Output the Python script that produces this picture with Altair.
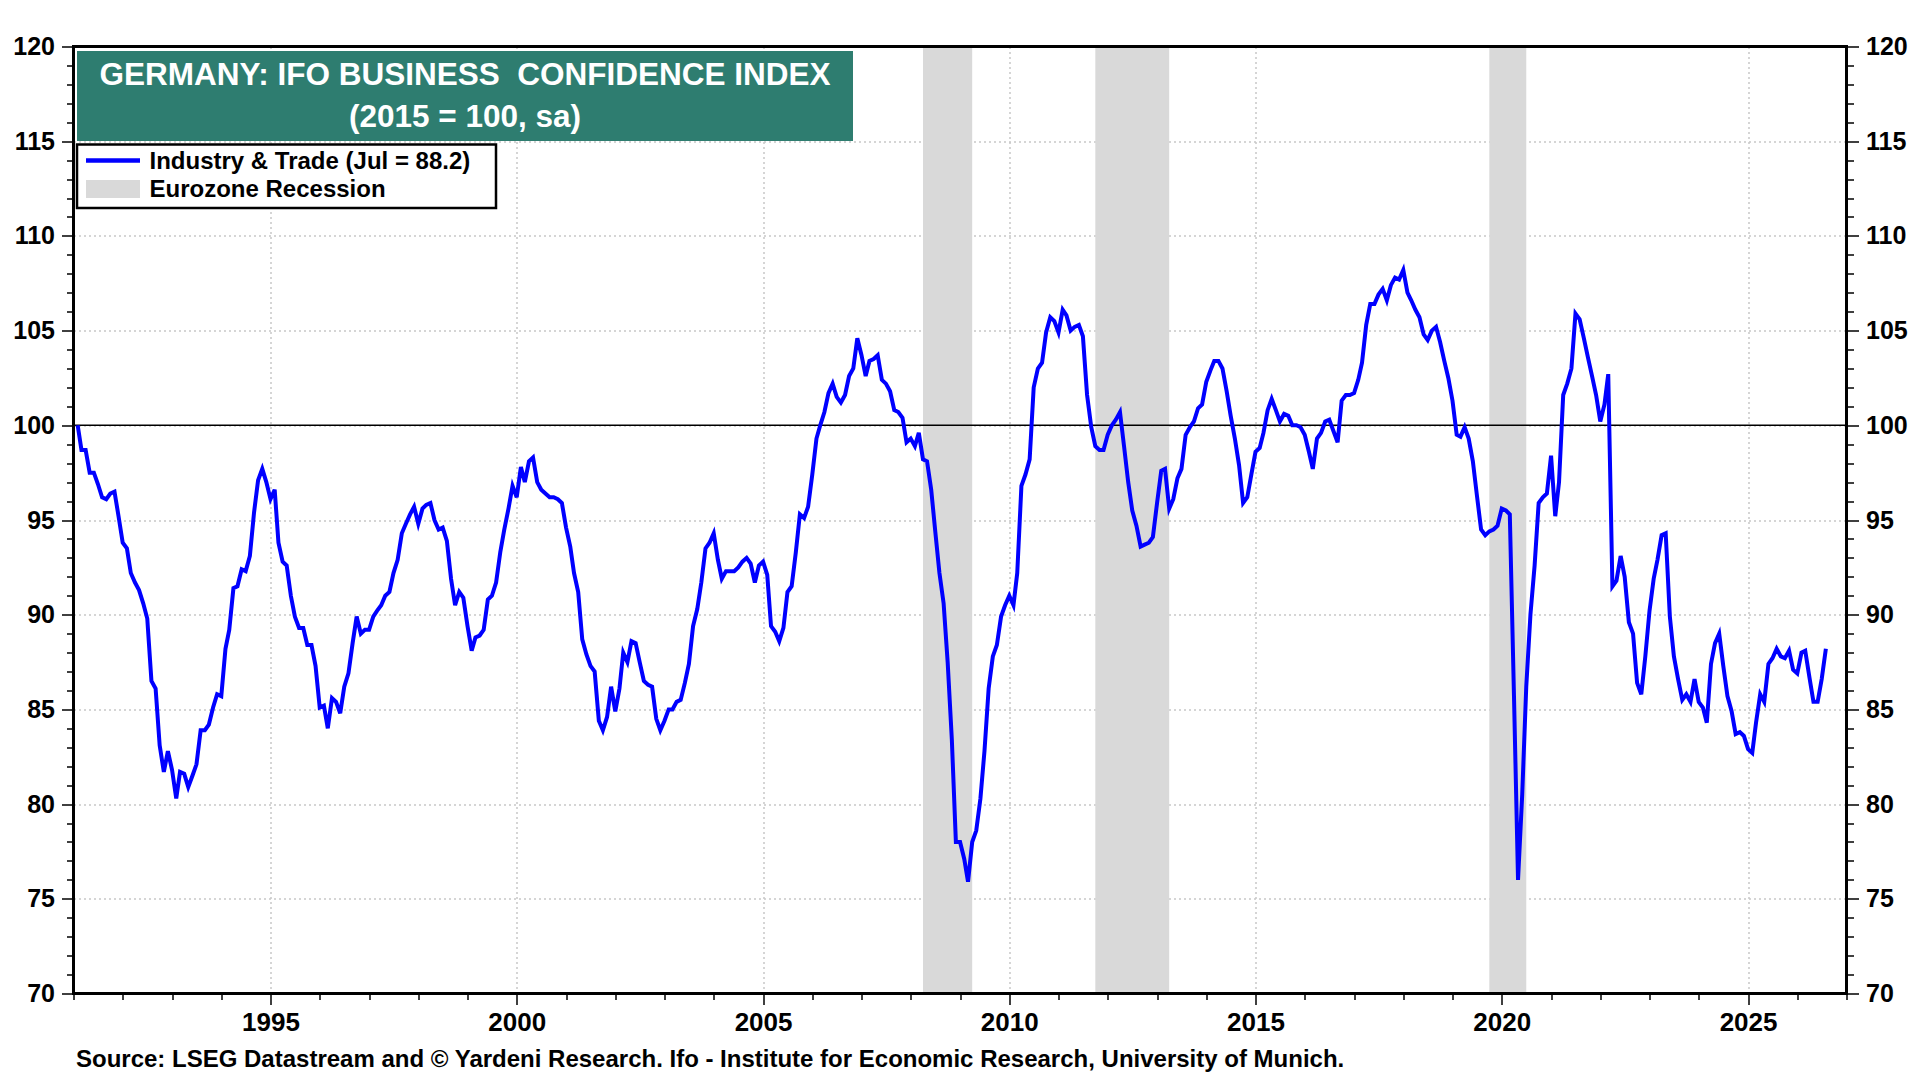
import altair as alt
import pandas as pd

# Monthly Ifo business climate, Industry & Trade (2015 = 100, sa), Jan 1991 .. Jul 2026
IFO_1991_1996 = [
    100.0, 98.7, 98.7, 97.5, 97.5, 96.9, 96.2, 96.1, 96.4, 96.5,
    95.2, 93.8, 93.5, 92.2, 91.7, 91.3, 90.6, 89.8, 86.5, 86.1,
    83.1, 81.7, 82.8, 81.8, 80.3, 81.7, 81.6, 80.9, 81.5, 82.1,
    83.9, 83.9, 84.2, 85.1, 85.8, 85.7, 88.2, 89.2, 91.4, 91.5,
    92.4, 92.3, 93.1, 95.4, 97.1, 97.7, 97.0, 96.1, 96.6, 93.8,
    92.8, 92.6, 91.0, 89.9, 89.3, 89.3, 88.4, 88.4, 87.3, 85.1,
    85.2, 84.0, 85.6, 85.4, 84.8, 86.2, 86.9, 88.5, 89.9, 89.0,
    89.2, 89.2, 89.9, 90.2,
]
IFO_1997_2002 = [
    90.5, 91.0, 91.2, 92.2, 92.9, 94.3, 94.8, 95.3, 95.7, 94.8,
    95.6, 95.8, 95.9, 95.0, 94.5, 94.6, 93.9, 91.9, 90.5, 91.2,
    90.9, 89.4, 88.1, 88.8, 88.9, 89.2, 90.8, 91.0, 91.7, 93.3,
    94.5, 95.6, 96.8, 96.2, 97.8, 97.0, 98.1, 98.3, 97.0, 96.6,
    96.4, 96.2, 96.2, 96.1, 95.9, 94.6, 93.6, 92.2, 91.2, 88.7,
    87.9, 87.3, 87.0, 84.4, 83.9, 84.6, 86.2, 84.9, 86.1, 88.0,
    87.5, 88.6, 88.5, 87.5, 86.5, 86.3, 86.2, 84.5, 83.9, 84.4,
    85.0, 85.0,
]
IFO_2003_2008 = [
    85.4, 85.5, 86.4, 87.4, 89.4, 90.3, 91.7, 93.5, 93.8, 94.3,
    92.9, 91.9, 92.3, 92.3, 92.3, 92.5, 92.8, 93.0, 92.7, 91.7,
    92.6, 92.8, 92.1, 89.4, 89.1, 88.6, 89.3, 91.2, 91.5, 93.3,
    95.3, 95.1, 95.7, 97.4, 99.3, 100.0, 100.7, 101.7, 102.2, 101.5,
    101.2, 101.6, 102.6, 103.0, 104.6, 103.7, 102.6, 103.4, 103.5, 103.7,
    102.4, 102.2, 101.8, 100.8, 100.7, 100.4, 99.1, 99.3, 98.9, 99.6,
    98.2, 98.1, 96.6, 94.4, 92.2, 90.6, 87.5, 83.4,
]
IFO_2008_2014 = [
    78.0, 78.0, 77.1, 75.9, 78.0, 78.6, 80.3, 82.8, 86.1, 87.8,
    88.4, 89.9, 90.5, 91.0, 90.5, 92.2, 96.8, 97.4, 98.2, 102.0,
    103.0, 103.3, 104.9, 105.7, 105.5, 104.9, 106.1, 105.8, 105.0, 105.2,
    105.3, 104.7, 101.6, 99.9, 98.9, 98.7, 98.7, 99.5, 100.0, 100.3,
    100.7, 98.9, 97.0, 95.5, 94.7, 93.6, 93.7, 93.8, 94.1, 95.9,
    97.6, 97.7, 95.6, 96.1, 97.2, 97.7, 99.5, 99.9, 100.2, 100.9,
    101.1, 102.3, 102.9, 103.4, 103.4, 103.0, 101.8, 100.5, 99.3,
]
IFO_2014_2020 = [
    97.9, 95.9, 96.2, 97.4, 98.6, 98.8, 99.6, 100.8, 101.4, 100.8,
    100.2, 100.6, 100.5, 100.0, 100.0, 99.9, 99.5, 98.6, 97.7, 99.3,
    99.6, 100.2, 100.3, 99.7, 99.1, 101.3, 101.6, 101.6, 101.7, 102.4,
    103.3, 105.3, 106.4, 106.4, 106.9, 107.2, 106.6, 107.4, 107.8, 107.7,
    108.2, 107.0, 106.6, 106.1, 105.7, 104.8, 104.5, 105.0, 105.2, 104.4,
    103.4, 102.5, 101.3, 99.5, 99.4, 99.9, 99.3, 98.1, 96.3, 94.5,
    94.2, 94.4, 94.5, 94.7, 95.6, 95.5, 95.3, 85.7, 76.0, 80.5,
    86.2,
]
IFO_2020_2026 = [
    90.0, 92.6, 95.9, 96.2, 96.4, 98.4, 95.2, 97.0, 101.6, 102.2,
    103.0, 105.9, 105.6, 104.6, 103.6, 102.6, 101.6, 100.2, 101.1, 102.7,
    91.5, 91.8, 93.1, 92.0, 89.6, 89.0, 86.4, 85.8, 87.8, 90.2,
    91.9, 92.9, 94.2, 94.3, 89.9, 87.8, 86.6, 85.5, 85.8, 85.4,
    86.6, 85.4, 85.1, 84.3, 87.4, 88.5, 89.0, 87.3, 85.7, 84.9,
    83.7, 83.8, 83.6, 82.9, 82.7, 84.3, 85.8, 85.4, 87.4, 87.7,
    88.2, 87.8, 87.7, 88.1, 87.1, 86.9, 88.0, 88.1, 86.7, 85.4,
    85.4, 86.6, 88.2,
]
VALUES = (IFO_1991_1996 + IFO_1997_2002 + IFO_2003_2008
          + IFO_2008_2014 + IFO_2014_2020 + IFO_2020_2026)

# each month is drawn at its month end (= first day of the next month)
FIRST_POINT = "1991-02-01"
DATES = pd.date_range(FIRST_POINT, periods=len(VALUES), freq="MS").strftime("%Y-%m-%d")

REC_START = ["2008-04-01", "2011-10-01", "2019-10-01"]
REC_END = ["2009-04-01", "2013-04-01", "2020-07-01"]

BASELINE = [100]
Y_TICKS = list(range(70, 121))
X_YEARS = list(range(1991, 2028))

TITLE_1 = "GERMANY: IFO BUSINESS \u00a0CONFIDENCE INDEX"
TITLE_2 = "(2015 = 100, sa)"
LEG_1 = f"Industry & Trade (Jul = {VALUES[-1]:.1f})"
LEG_2 = "Eurozone Recession"
FOOTER = ("Source: LSEG Datastream and \u00a9 Yardeni Research. Ifo - Institute for "
          "Economic Research, University of Munich.")

FONT = "Liberation Sans Narrow, Arial Narrow, Liberation Sans, Arial"
W, H = 1773, 947
BLUE = "#0000ff"
GRAY = "#d9d9d9"
TEAL = "#2e7d70"

line_df = pd.DataFrame({"date": DATES, "value": VALUES})
rec_df = pd.DataFrame({"start": REC_START, "end": REC_END})
base_df = pd.DataFrame({"v": BASELINE})
one = pd.DataFrame({"k": [0]})

xscale = alt.Scale(type="utc",
                   domain=[alt.DateTime(year=1991, month=1, date=1, utc=True),
                           alt.DateTime(year=2027, month=1, date=1, utc=True)])
yscale = alt.Scale(domain=[70, 120], nice=False, zero=False)

five_year = "utcyear(datum.value) % 5 === 0"
x_axis = alt.Axis(
    values=[alt.DateTime(year=y, month=1, date=1, utc=True) for y in X_YEARS],
    labelExpr=f"{five_year} ? '' + utcyear(datum.value) : ''",
    tickSize={"condition": {"test": five_year, "value": 11}, "value": 6},
    grid=True,
    gridOpacity={"condition": {"test": five_year, "value": 1}, "value": 0},
    gridDash=[2, 3], gridColor="#c8c8c8", gridWidth=1.5,
    domain=False, tickColor="black", tickWidth=1.5,
    labelFont=FONT, labelFontSize=26, labelFontWeight="bold", labelColor="black",
    labelPadding=5, labelOverlap=False, labelFlush=False, title=None,
)

five_unit = "datum.value % 5 === 0"
y_common = dict(
    values=Y_TICKS,
    labelExpr=f"{five_unit} ? datum.label : ''",
    tickSize={"condition": {"test": five_unit, "value": 12}, "value": 7},
    domain=False, tickColor="black", tickWidth=1.5,
    labelFont=FONT, labelFontSize=25, labelFontWeight="bold", labelColor="black",
    labelPadding=7, labelOverlap=False, labelFlush=False, title=None,
)
y_left = alt.Axis(orient="left", grid=True,
                  gridOpacity={"condition": {"test": five_unit, "value": 1}, "value": 0},
                  gridDash=[2, 3], gridColor="#c8c8c8", gridWidth=1.5, **y_common)
y_right = alt.Axis(orient="right", grid=False, **y_common)

rec = alt.Chart(rec_df).mark_rect(color=GRAY).encode(
    x=alt.X("start:T", scale=xscale, axis=x_axis, title=None),
    x2="end:T",
    y=alt.value(1.5), y2=alt.value(H - 1.5),
)

base = alt.Chart(base_df).mark_rule(color="black", strokeWidth=1.5).encode(
    y=alt.Y("v:Q", scale=yscale, axis=y_right, title=None),
)

line = alt.Chart(line_df).mark_line(color=BLUE, strokeWidth=4).encode(
    x=alt.X("date:T", scale=xscale, axis=x_axis, title=None),
    y=alt.Y("value:Q", scale=yscale, axis=y_left, title=None),
)

frame = alt.Chart(one).mark_rect(fillOpacity=0, stroke="black", strokeWidth=3).encode(
    x=alt.value(0), x2=alt.value(W), y=alt.value(0), y2=alt.value(H))

title_box = alt.Chart(one).mark_rect(color=TEAL).encode(
    x=alt.value(3.5), x2=alt.value(779.5), y=alt.value(4.5), y2=alt.value(94.5))
title_txt1 = alt.Chart(one).mark_text(
    color="white", font=FONT, fontSize=31.5, fontWeight="bold",
    align="center", baseline="middle").encode(
    x=alt.value(391.5), y=alt.value(29), text=alt.value(TITLE_1))
title_txt2 = alt.Chart(one).mark_text(
    color="white", font=FONT, fontSize=31.5, fontWeight="bold",
    align="center", baseline="middle").encode(
    x=alt.value(391.5), y=alt.value(71), text=alt.value(TITLE_2))

leg_box = alt.Chart(one).mark_rect(fill="white", stroke="black", strokeWidth=2.5).encode(
    x=alt.value(3.5), x2=alt.value(422.5), y=alt.value(98), y2=alt.value(161.5))
leg_line = alt.Chart(one).mark_rule(color=BLUE, strokeWidth=4.5).encode(
    x=alt.value(12.5), x2=alt.value(66.5), y=alt.value(114))
leg_swatch = alt.Chart(one).mark_rect(color=GRAY).encode(
    x=alt.value(12.5), x2=alt.value(66.5), y=alt.value(133.5), y2=alt.value(151.5))
leg_t1 = alt.Chart(one).mark_text(
    color="black", font=FONT, fontSize=24, fontWeight="bold",
    align="left", baseline="middle").encode(
    x=alt.value(76), y=alt.value(115), text=alt.value(LEG_1))
leg_t2 = alt.Chart(one).mark_text(
    color="black", font=FONT, fontSize=24, fontWeight="bold",
    align="left", baseline="middle").encode(
    x=alt.value(76), y=alt.value(143), text=alt.value(LEG_2))

footer = alt.Chart(one).mark_text(
    color="black", font=FONT, fontSize=24, fontWeight="bold",
    align="left", baseline="middle").encode(
    x=alt.value(2.5), y=alt.value(1013), text=alt.value(FOOTER))

chart = alt.layer(
    rec, base, line, frame, title_box, title_txt1, title_txt2,
    leg_box, leg_line, leg_swatch, leg_t1, leg_t2, footer,
).resolve_axis(y="independent").properties(
    width=W, height=H,
    autosize=alt.AutoSizeParams(type="none"),
    padding={"left": 65.5, "top": 38.5, "right": 65.5, "bottom": 78},
    background="white",
).configure_view(stroke=None)

chart.save("out.html", embed_options={"renderer": "svg", "actions": False})
